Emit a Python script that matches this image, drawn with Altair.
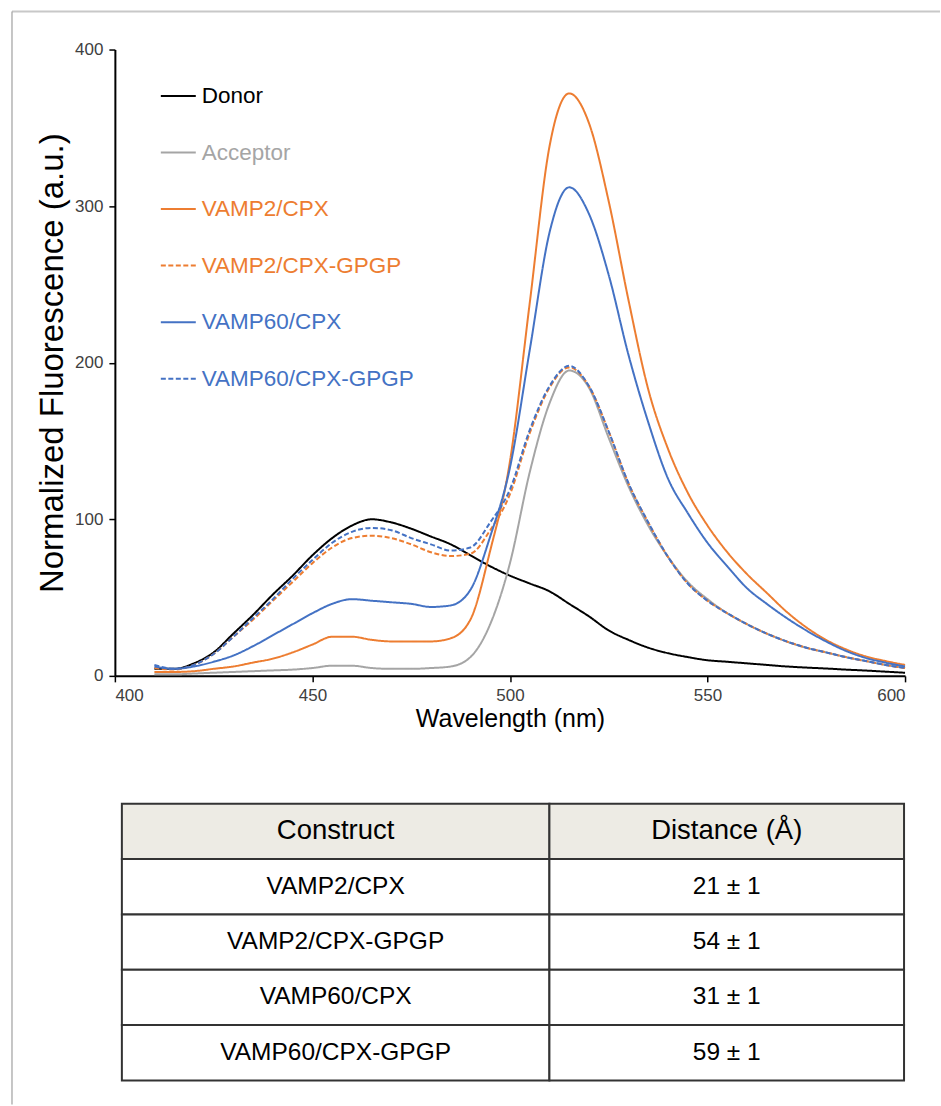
import altair as alt
import pandas as pd

FONT = "Liberation Sans"

# ---------------- data ----------------
wavelength = list(range(410, 601, 5))

donor = [4.5, 4.5, 8, 15, 27, 39, 52, 64, 77, 88, 96, 100, 98, 94, 89, 84, 77, 70, 64, 59,
         54, 46, 38, 29, 23, 18, 14.5, 12, 10, 9, 8, 7, 6, 5.3, 4.7, 4, 3.4, 2.7, 2]
acceptor = [1, 1, 1.5, 2, 2.5, 3, 3.5, 4, 5, 6.5, 6.5, 5, 4.5, 4.5, 5, 6, 12, 33, 72, 130,
            174, 195, 184, 152, 121, 96, 76, 60, 49, 40, 33, 27, 22, 18, 15, 12, 9.5, 7, 5]
vamp2_cpx = [2.5, 2.5, 3, 4.5, 6, 8.5, 11, 15, 20, 25, 25, 23, 22, 22, 22, 24, 36, 80, 137, 238,
             338, 372, 353, 303, 240, 183, 145, 117, 96, 79, 65, 53, 41, 31, 23, 17, 12.5, 9.5, 7]
vamp2_gpgp = [5, 4, 7, 14, 25, 36, 48, 60, 72, 82, 88, 89.5, 88, 84, 79, 76.5, 78, 93, 116, 155,
              184, 197, 185, 156, 123, 98, 76, 59, 48, 40, 33, 27, 22, 18, 15, 12, 9.5, 7, 5]
vamp60_cpx = [6, 4.5, 6, 9, 13, 19, 26, 33, 40, 46, 49, 48, 47, 46, 44, 45, 55, 89, 133, 208,
              283, 312, 295, 256, 205, 162, 126, 104, 85, 70, 56, 46, 37, 29, 22, 16, 11.5, 8.5, 6]
vamp60_gpgp = [7, 4.5, 7, 14, 25, 37, 49, 62, 74, 85, 92, 94.5, 93, 88, 84, 80, 82, 98, 119, 157,
               185, 198, 185, 156, 123, 98, 76, 59, 48, 40, 33, 27, 22, 18, 15, 12, 9.5, 7, 5]

series_names = ["Donor", "Acceptor", "VAMP2/CPX", "VAMP2/CPX-GPGP", "VAMP60/CPX", "VAMP60/CPX-GPGP"]
series_values = [donor, acceptor, vamp2_cpx, vamp2_gpgp, vamp60_cpx, vamp60_gpgp]

constructs = ["VAMP2/CPX", "VAMP2/CPX-GPGP", "VAMP60/CPX", "VAMP60/CPX-GPGP"]
distance = [21, 54, 31, 59]
distance_err = [1, 1, 1, 1]
table_header = ["Construct", "Distance (Å)"]

# ---------------- styles ----------------
series_colors = ["#000000", "#A5A5A5", "#ED7D31", "#ED7D31", "#4472C4", "#4472C4"]
series_dash = [[1, 0], [1, 0], [1, 0], [5, 2.5], [1, 0], [5, 2.5]]
PLOT_W, PLOT_H = 791, 627
TABLE_H = 277
COL_EDGES = [7, 435, 790]
HEADER_FILL = "#EDEBE4"

rows = []
for name, vals in zip(series_names, series_values):
    for w, v in zip(wavelength, vals):
        rows.append({"wavelength": w, "value": v, "series": name})
df = pd.DataFrame(rows)

leg = alt.Legend(
    title=None, orient="none", legendX=45, legendY=28,
    symbolType="stroke", symbolSize=1225, symbolStrokeWidth=2,
    labelFont=FONT, labelFontSize=22.5, labelOffset=5, rowPadding=26.6,
    labelLimit=400,
    labelColor=alt.ExprRef("scale('color', datum.value)"),
)

x_axis = alt.Axis(
    values=[400, 450, 500, 550, 600], title="Wavelength (nm)",
    titleFont=FONT, titleFontSize=25, titleFontWeight="normal", titleColor="#000000",
    titlePadding=3, labelFont=FONT, labelFontSize=17, labelColor="#404040",
    labelPadding=6, tickSize=6, tickColor="#000000", tickWidth=1.5,
    domainColor="#000000", domainWidth=2, grid=False,
)
y_axis = alt.Axis(
    values=[0, 100, 200, 300, 400], title="Normalized Fluorescence (a.u.)",
    titleFont=FONT, titleFontSize=33, titleFontWeight="normal", titleColor="#000000",
    titlePadding=5, labelFont=FONT, labelFontSize=17, labelColor="#404040",
    labelPadding=6, tickSize=6, tickColor="#000000", tickWidth=1.5,
    domainColor="#000000", domainWidth=2, grid=False,
)

lines = alt.Chart(df).mark_line(strokeWidth=2, interpolate="monotone").encode(
    x=alt.X("wavelength:Q", scale=alt.Scale(domain=[400, 600], nice=False, zero=False), axis=x_axis),
    y=alt.Y("value:Q", scale=alt.Scale(domain=[0, 400], nice=False), axis=y_axis),
    color=alt.Color("series:N", scale=alt.Scale(domain=series_names, range=series_colors),
                    sort=series_names, legend=leg),
    strokeDash=alt.StrokeDash("series:N", scale=alt.Scale(domain=series_names, range=series_dash),
                              sort=series_names, legend=leg),
)

frame_df = pd.DataFrame({"k": [0]})
frame_top = alt.Chart(frame_df).mark_rule(color="#C8C8C8", strokeWidth=2).encode(
    x=alt.value(-103), x2=alt.value(826), y=alt.value(-38))
frame_left = alt.Chart(frame_df).mark_rule(color="#A0A0A0", strokeWidth=1.2).encode(
    x=alt.value(-103), y=alt.value(-38), y2=alt.value(1056))

plot = alt.layer(frame_top, frame_left, lines).properties(width=PLOT_W, height=PLOT_H)

# ---------------- table ----------------
row_keys = ["h", "r1", "r2", "r3", "r4"]
cells = []
for ci in range(2):
    cells.append({"row": "h", "x0": COL_EDGES[ci], "x1": COL_EDGES[ci + 1],
                  "xc": (COL_EDGES[ci] + COL_EDGES[ci + 1]) / 2, "text": table_header[ci]})
for ri, (c, d, e) in enumerate(zip(constructs, distance, distance_err)):
    texts = [c, f"{d} ± {e}"]
    for ci in range(2):
        cells.append({"row": row_keys[ri + 1], "x0": COL_EDGES[ci], "x1": COL_EDGES[ci + 1],
                      "xc": (COL_EDGES[ci] + COL_EDGES[ci + 1]) / 2, "text": texts[ci]})
tdf = pd.DataFrame(cells)

tx = alt.X("x0:Q", scale=alt.Scale(domain=[0, PLOT_W], nice=False, zero=False), axis=None)
ty = alt.Y("row:N", sort=row_keys,
           scale=alt.Scale(domain=row_keys, paddingInner=0, paddingOuter=0), axis=None)

cell_rects = alt.Chart(tdf).mark_rect(stroke="#333333", strokeWidth=2).encode(
    x=tx, x2="x1:Q", y=ty,
    fill=alt.condition(alt.datum.row == "h", alt.value(HEADER_FILL), alt.value("#FFFFFF")),
)
cell_text = alt.Chart(tdf).mark_text(font=FONT, color="#000000", baseline="middle", align="center").encode(
    x=alt.X("xc:Q", scale=alt.Scale(domain=[0, PLOT_W], nice=False, zero=False), axis=None),
    y=ty, text="text:N",
    size=alt.condition(alt.datum.row == "h", alt.value(27.5), alt.value(24.5)),
)
table = alt.layer(cell_rects, cell_text).properties(width=PLOT_W, height=TABLE_H)

chart = alt.vconcat(plot, table, spacing=128, bounds="flush").properties(
    padding={"left": 11, "top": 10, "right": 0, "bottom": 0}
).configure_view(stroke=None)

chart.save("out.html", embed_options={"renderer": "svg", "actions": False})
